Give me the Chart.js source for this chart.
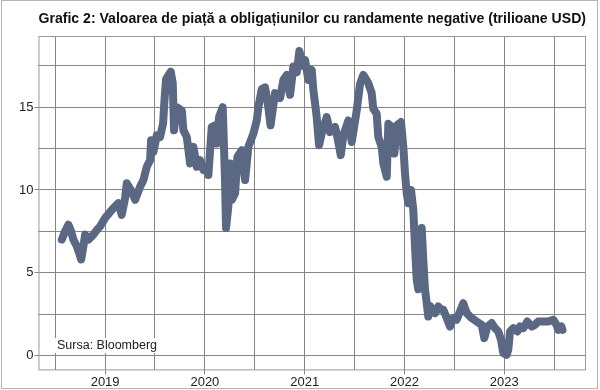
<!DOCTYPE html>
<html>
<head>
<meta charset="utf-8">
<script src="https://cdn.jsdelivr.net/npm/chart.js@4"></script>
<style>
  html, body { margin: 0; padding: 0; background: #fff; }
  canvas { display: block; }
</style>
</head>
<body>
<canvas id="myChart" width="600" height="390"></canvas>
<script>
// Dates as decimal years, values in trillion USD
const dates = [
  2018.566, 2018.599, 2018.632, 2018.659, 2018.682, 2018.716, 2018.739, 2018.760, 2018.780, 2018.800,
  2018.833, 2018.883, 2018.920, 2018.950, 2019.000, 2019.040, 2019.083, 2019.133, 2019.167, 2019.200,
  2019.217, 2019.268, 2019.301, 2019.351, 2019.384, 2019.418, 2019.451, 2019.461, 2019.484, 2019.518,
  2019.551, 2019.581, 2019.596, 2019.611, 2019.658, 2019.678, 2019.691, 2019.718, 2019.769, 2019.785,
  2019.819, 2019.852, 2019.885, 2019.919, 2019.952, 2019.985, 2020.019, 2020.035, 2020.069, 2020.102,
  2020.119, 2020.142, 2020.179, 2020.202, 2020.212, 2020.235, 2020.253, 2020.270, 2020.303, 2020.326,
  2020.370, 2020.403, 2020.436, 2020.486, 2020.520, 2020.536, 2020.570, 2020.603, 2020.636, 2020.658,
  2020.703, 2020.754, 2020.787, 2020.821, 2020.854, 2020.887, 2020.921, 2020.947, 2020.981, 2021.004,
  2021.037, 2021.071, 2021.087, 2021.121, 2021.144, 2021.171, 2021.221, 2021.255, 2021.305, 2021.328,
  2021.362, 2021.388, 2021.438, 2021.472, 2021.522, 2021.555, 2021.588, 2021.638, 2021.672, 2021.688,
  2021.722, 2021.738, 2021.772, 2021.789, 2021.823, 2021.839, 2021.873, 2021.899, 2021.923, 2021.966,
  2021.989, 2022.006, 2022.023, 2022.039, 2022.066, 2022.089, 2022.106, 2022.123, 2022.139, 2022.156,
  2022.173, 2022.189, 2022.206, 2022.223, 2022.239, 2022.256, 2022.273, 2022.307, 2022.340, 2022.374,
  2022.390, 2022.424, 2022.457, 2022.490, 2022.524, 2022.564, 2022.590, 2022.624, 2022.674, 2022.724,
  2022.775, 2022.801, 2022.831, 2022.875, 2022.908, 2022.941, 2022.968, 2022.991, 2023.025, 2023.041,
  2023.058, 2023.092, 2023.132, 2023.159, 2023.192, 2023.232, 2023.277, 2023.307, 2023.340, 2023.391,
  2023.441, 2023.492, 2023.525, 2023.541, 2023.574, 2023.584
];
const values = [
  7.0, 7.5, 7.9, 7.5, 7.0, 6.6, 6.2, 5.8, 6.5, 7.3,
  7.0, 7.3, 7.6, 7.8, 8.3, 8.6, 8.9, 9.2, 8.5, 9.5,
  10.4, 9.9, 9.4, 10.2, 10.6, 11.4, 11.8, 13.0, 12.3, 13.3,
  13.2, 14.0, 15.5, 16.7, 17.15, 16.45, 13.6, 15.0, 14.8, 13.6,
  13.2, 11.6, 12.6, 11.4, 11.8, 11.2, 11.4, 10.9, 13.8, 13.9,
  12.8, 14.4, 15.0, 10.6, 7.7, 9.0, 11.6, 9.4, 9.8, 12.0,
  12.4, 10.6, 12.6, 13.4, 14.2, 15.0, 16.1, 16.2, 15.0, 13.9,
  15.85, 15.55, 16.65, 16.95, 15.75, 17.45, 17.1, 18.4, 17.5, 17.85,
  16.65, 17.25, 16.05, 14.4, 12.7, 13.4, 14.4, 13.5, 13.8, 13.2,
  12.1, 13.3, 14.2, 12.9, 14.8, 16.4, 16.95, 16.45, 15.85, 14.9,
  14.6, 13.2, 12.6, 11.6, 10.8, 14.0, 13.8, 12.2, 13.9, 14.1,
  12.6, 11.0, 9.8, 9.2, 10.0, 8.8, 6.6, 4.6, 4.0, 5.4,
  7.7, 5.8, 4.0, 3.2, 2.35, 3.0, 2.86, 2.56, 2.96, 2.76,
  2.76, 2.26, 1.75, 2.26, 2.16, 2.76, 3.16, 2.56, 2.26, 2.05,
  1.85, 1.05, 1.75, 1.96, 1.65, 1.45, 0.95, 0.14, 0.04, 0.34,
  1.45, 1.65, 1.45, 1.75, 1.65, 2.05, 1.75, 1.85, 2.05, 2.05,
  2.05, 2.16, 1.85, 1.55, 1.75, 1.55
];
const xTicks = [2018.5, 2019, 2019.5, 2020, 2020.5, 2021, 2021.5, 2022, 2022.5, 2023, 2023.5];
const yTicks = [0, 2.5, 5, 7.5, 10, 12.5, 15, 17.5];

const gridColor = '#858585';

// frame round the plot, outer frame, and the source note
const extras = {
  id: 'extras',
  beforeDatasetsDraw(chart) {
    const { ctx, chartArea: a } = chart;
    ctx.save();
    ctx.strokeStyle = '#9a9a9a';
    ctx.lineWidth = 1;
    ctx.strokeRect(a.left + 0.5, a.top + 0.5, a.right - a.left - 1, a.bottom - a.top - 1);
    ctx.strokeStyle = '#b5b5b5';
    ctx.strokeRect(1.5, 0.5, 596, 388);

    ctx.font = '12.5px "Liberation Sans", Arial, sans-serif';
    const txt = 'Sursa: Bloomberg';
    const w = ctx.measureText(txt).width;
    ctx.fillStyle = '#fff';
    ctx.fillRect(55, 338, w + 4, 15);
    ctx.fillStyle = '#222';
    ctx.textBaseline = 'middle';
    ctx.fillText(txt, 57, 346);
    ctx.restore();
  }
};

new Chart(document.getElementById('myChart'), {
  type: 'line',
  data: {
    datasets: [{
      data: dates.map((d, i) => ({ x: d, y: values[i] })),
      borderColor: '#5a6884',
      borderWidth: 8,
      borderJoinStyle: 'round',
      borderCapStyle: 'round',
      pointRadius: 0,
      tension: 0
    }]
  },
  options: {
    responsive: false,
    animation: false,
    layout: { padding: { top: 8, left: 18, right: 14, bottom: 0 } },
    plugins: {
      legend: { display: false },
      tooltip: { enabled: false },
      title: {
        display: true,
        fullSize: false,
        text: 'Grafic 2: Valoarea de piață a obligațiunilor cu randamente negative (trilioane USD)',
        color: '#111',
        font: { family: '"Liberation Sans", Arial, sans-serif', size: 15, weight: 'bold' },
        padding: { top: 2, bottom: 8 }
      }
    },
    scales: {
      x: {
        type: 'linear',
        min: 2018.332,
        max: 2023.82,
        afterBuildTicks: s => { s.ticks = xTicks.map(v => ({ value: v })); },
        border: { display: false },
        grid: {
          color: gridColor,
          tickLength: 4,
          tickColor: c => Number.isInteger(c.tick.value) ? gridColor : 'rgba(0,0,0,0)'
        },
        ticks: {
          autoSkip: false,
          maxRotation: 0,
          padding: 0,
          color: '#222',
          font: { family: '"Liberation Sans", Arial, sans-serif', size: 13 },
          callback: v => Number.isInteger(v) ? String(v) : ''
        }
      },
      y: {
        min: -0.9,
        max: 19.3,
        afterBuildTicks: s => { s.ticks = yTicks.map(v => ({ value: v })); },
        border: { display: false },
        grid: {
          color: gridColor,
          tickLength: 4,
          tickColor: c => c.tick.value % 5 === 0 ? gridColor : 'rgba(0,0,0,0)'
        },
        ticks: {
          padding: 1,
          color: '#222',
          font: { family: '"Liberation Sans", Arial, sans-serif', size: 13 },
          callback: v => v % 5 === 0 ? String(v) : ''
        }
      }
    }
  },
  plugins: [extras]
});
</script>
</body>
</html>
